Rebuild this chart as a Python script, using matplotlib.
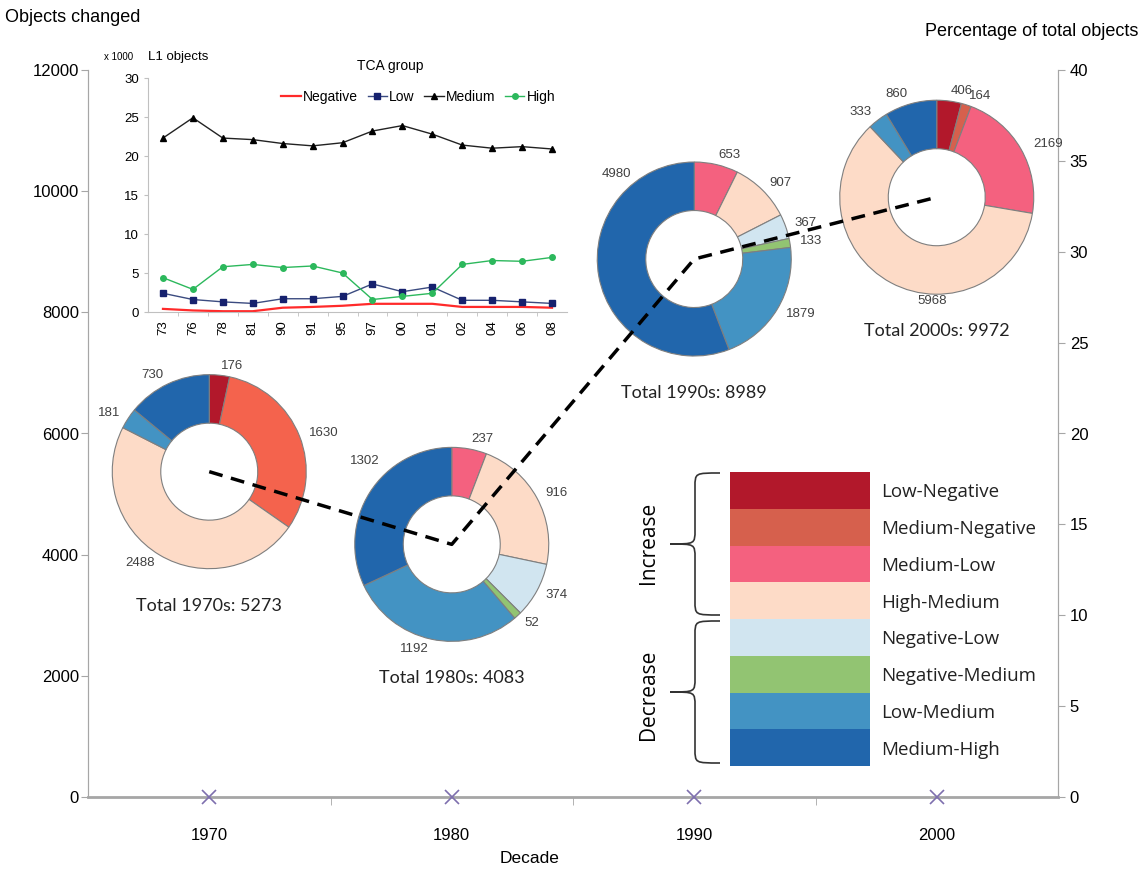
import numpy as np
import matplotlib.pyplot as plt
from matplotlib.path import Path
from matplotlib.patches import PathPatch, Rectangle

# main chart: decades, share of total objects and totals
decades = ['1970', '1980', '1990', '2000']
zero_series = [0, 0, 0, 0]
pct_total = [17.9, 13.9, 29.6, 33.0]
totals = [5273, 4083, 8989, 9972]

# transition groups (clockwise from top in each donut)
groups = ['Low-Negative', 'Medium-Negative', 'Medium-Low', 'High-Medium',
          'Negative-Low', 'Negative-Medium', 'Low-Medium', 'Medium-High']
group_colors = ['#b2182b', '#d6604d', '#f4617f', '#fddbc7',
                '#d1e5f0', '#92c472', '#4393c3', '#2166ac']

changes_1970 = [176, 1630, 0, 2488, 0, 0, 181, 730]
changes_1980 = [0, 0, 237, 916, 374, 52, 1192, 1302]
changes_1990 = [0, 0, 653, 907, 367, 133, 1879, 4980]
changes_2000 = [406, 164, 2169, 5968, 0, 0, 333, 860]
changes = [changes_1970, changes_1980, changes_1990, changes_2000]

# the 1970s donut uses a brighter red for Medium-Negative
donut_colors = [list(group_colors) for _ in decades]
donut_colors[0][1] = '#f4634d'

# a few labels sit elsewhere than the default spot (donut radius units)
label_moves = {(1, 1302): (-0.9, 0.86), (2, 4980): (-0.8, 0.88),
               (3, 2169): (1.15, 0.55), (3, 5968): (-0.05, -1.07)}

# inset: L1 objects per TCA group (x 1000)
years = ['73', '76', '78', '81', '90', '91', '95', '97', '00', '01', '02', '04', '06', '08']
l1_negative = [0.4, 0.2, 0.1, 0.1, 0.55, 0.65, 0.8, 1.05, 1.05, 1.05, 0.65, 0.65, 0.65, 0.55]
l1_low = [2.4, 1.6, 1.3, 1.1, 1.7, 1.7, 2.0, 3.6, 2.6, 3.2, 1.5, 1.5, 1.3, 1.1]
l1_medium = [22.3, 24.9, 22.3, 22.1, 21.6, 21.3, 21.7, 23.2, 23.9, 22.8, 21.4, 21.0, 21.2, 20.9]
l1_high = [4.4, 2.9, 5.8, 6.1, 5.7, 5.9, 5.0, 1.6, 2.0, 2.4, 6.1, 6.6, 6.5, 7.0]

W, H = 1143, 872
plt.rcParams['font.family'] = ['Liberation Sans', 'DejaVu Sans']
fig = plt.figure(figsize=(W / 100, H / 100), dpi=100)

gray = '#a6a6a6'
ax = fig.add_axes([88 / W, 1 - 797 / H, 970 / W, 727 / H], zorder=0)
ax.set_xlim(-0.5, 3.5)
ax.set_ylim(0, 12000)
ax.set_yticks(range(0, 12001, 2000))
ax.set_xticks(range(4), decades)
ax.set_xticks([0.5, 1.5, 2.5], minor=True)
ax.tick_params(axis='x', which='major', length=0, pad=22, labelsize=12)
ax.tick_params(axis='x', which='minor', length=6, color=gray)
ax.tick_params(axis='y', length=5, pad=1.5, color=gray, labelsize=12)
ax.plot(range(4), zero_series, 'x', color='#7e6fae', ms=10, mew=1.2, clip_on=False, zorder=5)
ax.spines['top'].set_visible(False)
ax.spines['left'].set_color(gray)
ax.spines['right'].set_color(gray)
ax.spines['bottom'].set_color(gray)
ax.spines['bottom'].set_linewidth(2)

ax2 = ax.twinx()
ax2.set_ylim(0, 40)
ax2.set_yticks(range(0, 41, 5))
ax2.tick_params(axis='y', length=5, color=gray, labelsize=12)
ax2.spines['top'].set_visible(False)
ax2.spines['right'].set_color(gray)
ax2.spines['left'].set_color(gray)
ax2.spines['bottom'].set_visible(False)

fig.text(5 / W, 1 - 17 / H, 'Objects changed', fontsize=13, va='center', ha='left')
fig.text(1138 / W, 1 - 32 / H, 'Percentage of total objects', fontsize=13, va='center', ha='right')
fig.text(530 / W, 1 - 858 / H, 'Decade', fontsize=12.5, va='center', ha='center')

# donuts centred on the percentage line
r_px = 97
to_fig = fig.transFigure.inverted()
for i, vals in enumerate(changes):
    cx, cy = to_fig.transform(ax2.transData.transform((i, pct_total[i])))
    dax = fig.add_axes([cx - r_px / W, cy - r_px / H, 2 * r_px / W, 2 * r_px / H], zorder=1)
    v = [x for x in vals if x > 0]
    c = [donut_colors[i][k] for k, x in enumerate(vals) if x > 0]
    wedges, texts = dax.pie(v, colors=c, labels=[str(x) for x in v], startangle=90,
                            counterclock=False, labeldistance=1.1,
                            wedgeprops=dict(width=0.5, edgecolor='#7f7f7f', linewidth=0.8),
                            textprops=dict(fontsize=9.5, color='#404040'))
    for val, t in zip(v, texts):
        if (i, val) in label_moves:
            t.set_position(label_moves[(i, val)])
            t.set_ha('center')
    dax.set_xlim(-1, 1)
    dax.set_ylim(-1, 1)
    dax.text(0, -1.38, f'Total {decades[i]}s: {totals[i]}', ha='center', va='center',
             fontsize=13, family='Lato', color='#222222')

# dashed percentage line drawn on top of the donuts
lax = fig.add_axes(ax.get_position(), zorder=2)
lax.set_xlim(-0.5, 3.5)
lax.set_ylim(0, 40)
lax.axis('off')
lax.plot(range(4), pct_total, color='black', ls=(0, (4, 2.5)), lw=2.5)

# inset line chart
iax = fig.add_axes([148 / W, 1 - 312 / H, 419 / W, 234 / H], zorder=3)
xi = np.arange(len(years))
iax.plot(xi, l1_negative, color='#ff2a2a', lw=1.6, label='Negative')
iax.plot(xi, l1_low, color='#3b4b80', lw=1, marker='s', ms=4, mfc='#16216e', mec='#16216e', label='Low')
iax.plot(xi, l1_medium, color='#222222', lw=1, marker='^', ms=4.5, mfc='black', mec='black', label='Medium')
iax.plot(xi, l1_high, color='#2cb85c', lw=1, marker='o', ms=4, label='High')
iax.set_xlim(-0.5, len(years) - 0.5)
iax.set_ylim(0, 30)
iax.set_yticks(range(0, 31, 5))
iax.set_xticks(xi, years, rotation=90)
iax.set_xticks(np.arange(0.5, len(years) - 1, 1), minor=True)
iax.tick_params(axis='x', which='major', length=0, labelsize=9.5, pad=6)
iax.tick_params(axis='x', which='minor', length=3, color='#c0c0c0')
iax.tick_params(axis='y', length=3, color='#c0c0c0', labelsize=9.5)
iax.spines['top'].set_visible(False)
iax.spines['right'].set_visible(False)
iax.spines['left'].set_color('#c0c0c0')
iax.spines['bottom'].set_color('#c0c0c0')
iax.patch.set_alpha(0)
iax.legend(ncol=4, frameon=False, loc='center', bbox_to_anchor=(0.645, 0.92), fontsize=10,
           handlelength=1.4, columnspacing=0.7, handletextpad=0.15)
iax.text(0.578, 1.05, 'TCA group', transform=iax.transAxes, ha='center', va='center', fontsize=10)
fig.text(104 / W, 1 - 57 / H, 'x 1000', fontsize=7, va='center', ha='left')
fig.text(148 / W, 1 - 57 / H, 'L1 objects', fontsize=9.5, va='center', ha='left')

# colour key with braces
kax = fig.add_axes([0, 0, 1, 1], zorder=4)
kax.set_xlim(0, W)
kax.set_ylim(H, 0)
kax.axis('off')
row_h = 36.75
for k, (g, col) in enumerate(zip(groups, group_colors)):
    y = 472 + k * row_h
    kax.add_patch(Rectangle((730, y), 140, row_h, facecolor=col, edgecolor='none'))
    kax.text(881, y + row_h / 2 + 2, g, va='center', ha='left', fontsize=13.5,
             family='Open Sans', color='#222222')


def brace(x_end, x_mid, x_tip, y_top, y_bot, r=14):
    ym = (y_top + y_bot) / 2
    verts = [(x_end, y_top),
             (x_mid, y_top), (x_mid, y_top), (x_mid, y_top + r),
             (x_mid, ym - r),
             (x_mid, ym), (x_mid, ym), (x_tip, ym),
             (x_mid, ym), (x_mid, ym), (x_mid, ym + r),
             (x_mid, y_bot - r),
             (x_mid, y_bot), (x_mid, y_bot), (x_end, y_bot)]
    codes = [Path.MOVETO,
             Path.CURVE4, Path.CURVE4, Path.CURVE4,
             Path.LINETO,
             Path.CURVE4, Path.CURVE4, Path.CURVE4,
             Path.CURVE4, Path.CURVE4, Path.CURVE4,
             Path.LINETO,
             Path.CURVE4, Path.CURVE4, Path.CURVE4]
    kax.add_patch(PathPatch(Path(verts, codes), facecolor='none', edgecolor='#333333', lw=1.2))


brace(720, 695, 670, 473, 615)
brace(720, 695, 670, 621, 763)
kax.text(648, 543, 'Increase', rotation=90, ha='center', va='center', fontsize=15, family='Open Sans')
kax.text(648, 695, 'Decrease', rotation=90, ha='center', va='center', fontsize=15, family='Open Sans')

fig.savefig('out.png', dpi=100)
